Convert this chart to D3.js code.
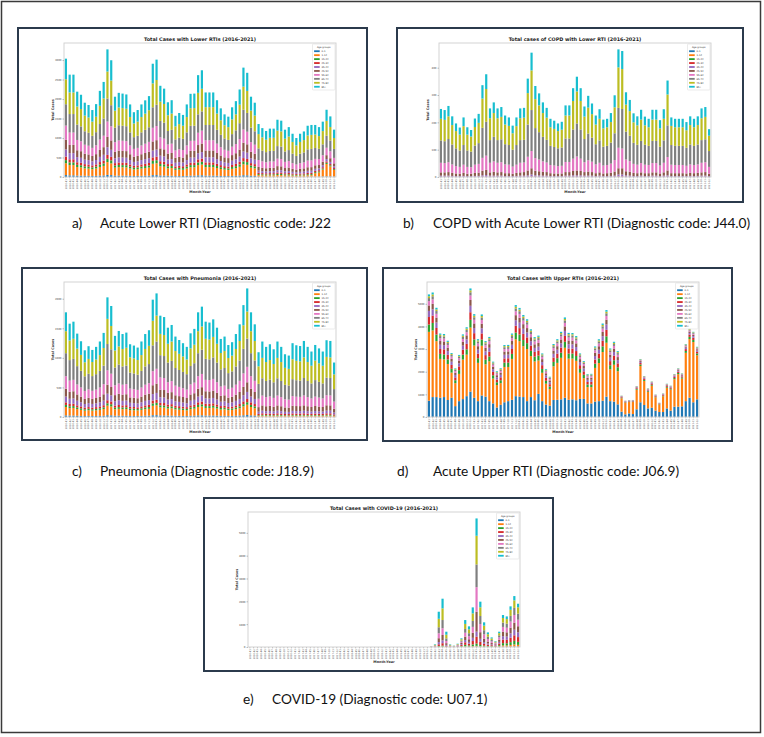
<!DOCTYPE html>
<html>
<head>
<meta charset="utf-8">
<script src="https://cdn.jsdelivr.net/npm/d3@7"></script>
<style>
  body { margin: 0; background: #fff; }
  svg { display: block; }
</style>
</head>
<body>
<div id="chart-area"></div>
<script>
// categories
var ageGroups = ['0-1', '1-14', '15-24', '25-34', '35-44', '45-54', '55-64', '65-74', '75-84', '85+'];
var colors = ['#1f77b4', '#ff7f0e', '#2ca02c', '#d62728', '#9467bd', '#8c564b', '#e377c2', '#7f7f7f', '#bcbd22', '#17becf'];
var years = [2016, 2017, 2018, 2019, 2020, 2021];
var monthNums = ['01', '02', '03', '04', '05', '06', '07', '08', '09', '10', '11', '12'];

// a) Lower RTIs - one row per age group, 72 months
var lowerRTI = [
  [49,42,42,35,34,31,30,28,30,36,39,53, 48,33,35,34,34,30,27,28,30,32,33,47, 48,38,36,31,32,25,26,26,30,34,34,42, 44,35,35,35,32,28,26,25,29,31,36,45, 43,33,31,7,6,6,6,6,7,7,6,6, 6,5,6,6,7,7,8,8,12,15,12,10],
  [305,264,264,220,212,192,186,173,188,222,245,329, 301,207,217,215,213,187,167,173,187,198,209,292, 303,235,228,193,198,158,165,160,187,215,215,263, 275,218,218,218,198,177,162,156,180,196,226,282, 269,207,192,41,38,35,37,37,44,43,36,38, 33,30,33,35,39,40,90,110,180,320,260,170],
  [79,69,69,57,55,50,48,45,49,58,64,86, 78,54,56,56,55,49,43,45,49,51,54,76, 79,61,59,50,51,41,43,42,49,56,56,68, 72,57,57,57,51,46,42,40,47,51,59,73, 70,54,50,27,25,24,25,25,29,29,24,26, 22,20,22,23,26,27,27,25,26,30,28,22],
  [92,79,79,66,64,57,56,52,56,67,74,99, 90,62,65,65,64,56,50,52,56,59,63,88, 91,71,68,58,59,47,50,48,56,64,65,79, 83,65,65,65,59,53,48,47,54,59,68,85, 81,62,57,34,31,30,31,31,37,36,30,32, 28,25,28,29,33,33,33,31,33,35,32,28],
  [183,158,158,132,127,115,111,104,113,133,147,197, 181,124,130,129,128,112,100,104,112,119,125,175, 182,141,137,116,119,95,99,96,112,129,129,158, 165,131,131,131,119,106,97,93,108,117,135,169, 161,124,115,54,50,47,50,50,59,58,49,51, 44,40,44,47,53,53,52,48,52,60,55,45],
  [244,211,211,176,170,153,148,138,150,178,196,263, 241,166,174,172,170,150,134,138,150,158,167,234, 242,188,182,154,158,126,132,128,150,172,172,210, 220,174,174,174,158,142,129,124,144,156,180,226, 215,166,153,95,88,83,87,87,103,101,85,90, 78,70,78,82,92,93,90,85,90,100,95,75],
  [366,317,317,264,254,230,223,207,226,266,294,395, 361,248,260,258,256,224,200,207,224,237,250,350, 363,282,274,231,238,190,198,192,224,257,258,315, 330,262,262,262,238,212,194,187,215,235,271,338, 322,248,230,177,163,153,161,161,191,188,158,166, 144,130,144,152,171,174,165,155,165,190,175,140],
  [549,475,475,396,382,345,334,311,338,400,441,592, 542,373,391,387,383,337,301,311,337,356,375,526, 545,423,410,347,356,284,297,288,337,386,387,473, 495,392,392,392,356,319,291,280,323,352,406,508, 483,373,345,299,276,260,273,273,323,318,267,282, 244,220,244,257,289,294,280,262,280,310,280,230],
  [641,554,554,462,445,402,390,362,395,466,515,691, 632,435,456,452,447,393,351,362,393,415,438,613, 635,494,479,404,416,332,347,336,393,450,452,551, 578,458,458,458,416,372,339,327,377,411,474,592, 564,435,402,367,339,319,335,335,397,390,328,346, 300,270,300,316,355,360,345,325,340,380,345,280],
  [528,457,457,381,367,331,321,298,325,384,424,569, 521,358,375,372,368,324,289,298,324,342,361,505, 523,407,394,333,343,273,285,277,324,371,372,454, 476,377,377,377,343,306,279,269,311,338,390,488, 465,358,331,258,238,224,236,236,279,275,231,243, 211,190,211,222,250,254,245,231,242,285,273,215]
];

// b) COPD with Lower RTI
var copdLRTI = [
  [0,0,0,0,0,0,0,0,0,0,0,0, 0,0,0,0,0,0,0,0,0,0,0,0, 0,0,0,0,0,0,0,0,0,0,0,0, 0,0,0,0,0,0,0,0,0,0,0,0, 0,0,0,0,0,0,0,0,0,0,0,0, 0,0,0,0,0,0,0,0,0,0,0,0],
  [0,0,0,0,0,0,0,0,0,0,0,0, 0,0,0,0,0,0,0,0,0,0,0,0, 0,0,0,0,0,0,0,0,0,0,0,0, 0,0,0,0,0,0,0,0,0,0,0,0, 0,0,0,0,0,0,0,0,0,0,0,0, 0,0,0,0,0,0,0,0,0,0,0,0],
  [0,0,0,0,0,0,0,0,0,0,0,0, 0,0,0,0,0,0,0,0,0,0,0,0, 0,0,0,0,0,0,0,0,0,0,0,0, 0,0,0,0,0,0,0,0,0,0,0,0, 0,0,0,0,0,0,0,0,0,0,0,0, 0,0,0,0,0,0,0,0,0,0,0,0],
  [1,1,1,1,0,0,1,0,0,1,1,1, 1,1,1,1,1,0,0,0,1,1,1,1, 2,1,1,1,1,0,0,0,0,1,1,1, 1,1,1,1,1,0,1,0,0,1,1,2, 2,1,1,0,0,1,0,0,1,1,0,1, 1,0,0,0,0,0,1,0,1,1,1,0],
  [4,4,4,3,3,3,3,3,3,3,3,5, 6,4,4,4,4,3,3,3,3,4,4,5, 7,5,5,4,4,3,3,3,3,4,4,5, 5,5,4,4,4,3,4,3,3,3,4,7, 7,5,4,3,3,4,3,3,4,4,3,4, 5,3,3,3,3,3,3,3,3,4,4,3],
  [12,12,13,11,10,9,11,9,9,11,12,17, 19,12,14,12,13,11,11,9,11,12,13,18, 23,17,15,14,13,11,10,10,10,13,13,16, 18,16,13,15,13,11,12,10,11,12,15,23, 23,15,14,12,11,12,11,11,12,12,10,12, 18,11,11,11,11,10,11,11,11,12,13,9],
  [35,34,36,31,27,25,30,25,24,30,32,47, 52,35,38,35,36,32,31,26,30,35,35,50, 63,46,43,38,35,30,29,27,28,37,37,45, 51,45,36,41,38,32,35,29,30,33,42,75, 72,43,39,33,31,34,31,30,34,34,29,35, 49,31,30,30,30,28,31,30,31,35,36,25],
  [82,80,85,73,65,60,72,60,57,70,76,110, 124,83,90,83,84,74,72,62,72,83,83,118, 150,110,100,90,83,70,68,65,67,86,86,107, 121,107,85,98,88,74,82,69,70,77,98,146, 145,102,93,77,73,81,73,70,81,81,69,82, 116,72,70,70,70,66,73,70,73,83,84,58],
  [79,78,83,71,63,58,69,58,55,68,74,107, 120,80,87,80,82,72,70,60,69,80,81,115, 145,106,98,87,81,68,66,63,65,84,84,104, 117,104,82,95,86,72,79,67,68,75,95,148, 146,99,90,75,71,78,71,68,78,78,67,79, 113,70,68,68,68,64,71,68,71,80,82,56],
  [36,36,38,32,28,26,32,27,24,31,33,49, 54,36,39,36,36,33,31,28,32,36,36,53, 65,48,44,39,36,31,30,28,29,37,37,47, 54,47,37,43,39,33,35,32,31,33,44,66, 66,45,41,33,33,36,32,31,36,36,30,35, 51,31,31,31,31,30,32,31,32,36,36,24]
];

// c) Pneumonia
var pneumonia = [
  [27,24,24,21,19,17,18,17,18,19,21,30, 28,21,22,21,21,18,18,18,19,21,22,30, 31,26,25,23,23,20,20,19,18,21,22,27, 28,24,24,25,23,20,20,18,19,21,24,28, 33,27,24,3,4,4,4,3,4,4,3,3, 4,4,4,4,4,3,4,3,3,4,4,3],
  [142,126,129,113,102,90,96,91,95,102,114,162, 150,110,116,112,114,98,97,94,102,112,117,159, 167,137,135,121,124,109,104,100,95,113,119,142, 149,129,128,132,121,106,109,98,101,112,125,151, 174,142,125,16,19,18,18,17,19,18,16,16, 19,18,18,19,18,17,18,17,17,19,19,14],
  [35,32,32,28,26,23,24,23,24,26,28,40, 38,27,29,28,29,25,24,23,26,28,29,40, 42,34,34,30,31,27,26,25,24,28,30,35, 37,32,32,33,30,26,27,24,25,28,31,38, 43,35,31,11,13,12,12,11,13,12,11,10, 12,12,12,13,12,11,12,12,11,13,13,9],
  [44,39,40,35,32,28,30,28,30,32,36,51, 47,34,36,35,36,31,30,29,32,35,37,50, 52,43,42,38,39,34,33,31,30,35,37,44, 47,40,40,41,38,33,34,30,32,35,39,47, 54,44,39,22,26,24,25,23,26,24,21,21, 25,24,24,26,24,22,24,23,22,26,26,18],
  [97,87,89,78,70,62,66,62,65,70,78,111, 103,75,80,77,78,68,66,65,70,77,81,109, 115,94,93,83,86,75,72,69,65,78,82,97, 103,89,88,91,83,73,75,67,70,77,86,104, 120,97,86,38,45,41,43,40,45,41,37,36, 44,42,42,45,41,39,43,41,39,45,45,32],
  [133,118,121,106,96,85,90,85,89,96,107,152, 141,103,109,105,107,92,91,88,96,105,110,149, 157,128,127,113,117,102,98,94,89,106,112,133, 140,121,120,124,113,99,102,91,95,105,118,142, 163,133,118,77,89,83,86,80,89,83,74,73, 87,85,84,90,83,77,85,81,77,91,90,64],
  [212,189,193,169,154,135,144,136,142,153,171,243, 225,165,175,168,171,148,145,141,153,168,176,238, 251,206,203,181,187,163,156,150,142,170,179,212, 224,193,192,198,181,158,163,146,152,168,188,227, 261,212,188,142,166,154,160,149,166,154,138,135, 162,158,156,167,154,144,158,151,144,169,167,120],
  [389,347,355,310,282,248,263,250,261,281,313,445, 413,302,320,309,314,271,266,258,281,309,323,436, 460,377,372,332,342,299,286,274,261,312,328,389, 410,355,351,363,332,290,299,268,278,309,345,416, 478,389,345,252,293,273,283,264,293,273,244,239, 287,279,276,296,273,255,280,267,255,299,296,212],
  [372,332,339,296,269,237,251,238,249,268,298,425, 394,288,306,295,300,258,254,247,268,295,308,416, 439,360,355,317,327,286,273,262,249,297,313,372, 392,339,335,347,317,277,286,256,265,295,329,398, 457,372,329,296,344,320,332,309,344,320,287,281, 337,328,324,347,320,299,329,313,299,350,347,249],
  [319,284,290,254,231,203,215,204,213,230,256,364, 338,247,262,253,257,221,217,211,230,253,264,357, 376,308,304,272,280,245,234,224,213,255,268,319, 336,290,287,297,272,238,245,219,228,253,282,341, 391,319,282,238,277,257,267,249,277,257,230,225, 271,263,260,279,257,240,265,252,240,282,279,200]
];

// d) Upper RTIs
var upperRTI = [
  [720,880,880,850,880,750,850,480,700,790,920,1120, 850,700,950,900,700,600,420,540,650,700,760,920, 900,880,700,880,740,1020,700,550,500,750,760,780, 850,760,780,740,800,800,600,600,680,700,720,900, 700,680,560,235,118,160,130,340,650,530,380,410, 280,220,220,380,280,455,455,470,700,850,650,780],
  [3040,2943,2470,1715,1664,1592,1110,1014,1204,1747,1832,2828, 2305,1691,2198,1428,1760,1096,991,954,1560,1510,1805,2513, 2450,2248,2302,1810,1713,1475,1253,923,737,1488,1631,1833, 2208,1818,1798,1741,1153,917,721,721,1488,1684,2150,2380, 1406,1627,1462,592,516,500,530,866,1603,1063,729,972, 591,334,695,914,934,1217,1437,1228,2134,2591,2659,1948],
  [325,330,289,221,220,202,169,129,164,219,238,341, 272,206,272,201,212,146,122,129,191,191,221,296, 289,270,259,232,212,215,169,127,107,193,206,226, 264,223,223,214,169,148,114,114,187,206,248,283, 182,199,175,24,18,19,19,34,64,45,32,39, 25,16,26,37,35,48,54,48,81,98,94,78],
  [330,325,292,218,224,199,172,126,166,215,241,338, 275,203,270,204,209,149,120,131,188,194,218,299, 286,273,256,235,209,218,166,130,104,196,203,229, 261,226,220,217,166,151,111,117,184,209,245,286, 179,202,172,26,19,18,20,32,66,43,34,37, 26,15,27,35,37,46,56,46,83,96,96,76],
  [270,275,241,185,183,169,141,108,137,183,198,284, 227,172,227,168,177,122,102,108,159,159,185,247, 241,225,216,194,177,180,141,106,89,161,172,188, 220,186,186,179,141,124,95,95,156,172,207,236, 152,166,146,19,14,15,15,27,51,36,25,31, 20,13,21,29,28,38,43,39,64,78,75,62],
  [243,248,217,166,165,152,127,97,123,164,178,256, 204,155,204,151,159,110,91,97,143,143,166,222, 217,203,194,174,159,162,126,95,80,145,155,169, 198,167,167,161,126,111,86,86,140,154,186,212, 136,149,131,14,11,11,11,21,38,27,19,24, 15,9,16,22,21,29,32,29,48,59,56,47],
  [189,193,169,129,128,118,99,75,96,128,139,199, 159,120,159,117,124,85,71,75,111,111,129,173, 169,158,151,135,124,126,98,74,62,113,120,132, 154,130,130,125,98,86,67,67,109,120,145,165, 106,116,102,11,9,9,9,16,31,22,15,19, 12,8,12,18,17,23,26,23,39,47,45,37],
  [135,138,121,92,92,84,71,54,69,91,99,142, 114,86,113,84,89,61,51,54,80,80,92,124, 121,113,108,97,88,90,70,53,45,81,86,94, 110,93,93,89,70,62,48,48,78,86,103,118, 76,83,73,9,7,8,8,14,26,18,13,16, 10,6,10,15,14,19,22,19,32,39,38,31],
  [81,83,72,55,55,51,42,32,41,55,59,85, 68,52,68,50,53,37,30,32,48,48,55,74, 72,68,65,58,53,54,42,32,27,48,52,56, 66,56,56,54,42,37,29,29,47,51,62,71, 45,50,44,7,5,5,5,10,18,13,9,11, 7,4,7,10,10,13,15,14,23,27,26,22],
  [81,83,72,55,55,51,42,32,41,55,59,85, 68,52,68,50,53,37,30,32,48,48,55,74, 72,68,65,58,53,54,42,32,27,48,52,56, 66,56,56,54,42,37,29,29,47,51,62,71, 45,50,44,6,4,5,5,8,15,11,8,9, 6,4,6,9,8,11,13,12,19,23,23,19]
];

// e) COVID-19
var covid19 = [
  [0,0,0,0,0,0,0,0,0,0,0,0, 0,0,0,0,0,0,0,0,0,0,0,0, 0,0,0,0,0,0,0,0,0,0,0,0, 0,0,0,0,0,0,0,0,0,0,0,0, 0,0,5,6,2,0,0,1,2,5,4,6, 20,8,5,4,3,2,6,14,13,18,22,19],
  [0,0,0,0,0,0,0,0,0,0,0,0, 0,0,0,0,0,0,0,0,0,0,0,0, 0,0,0,0,0,0,0,0,0,0,0,0, 0,0,0,0,0,0,0,0,0,0,0,0, 0,1,10,15,5,1,1,3,8,20,15,25, 30,20,15,12,10,8,25,55,55,70,90,75],
  [0,0,0,0,0,0,0,0,0,0,0,0, 0,0,0,0,0,0,0,0,0,0,0,0, 0,0,0,0,0,0,0,0,0,0,0,0, 0,0,0,0,0,0,0,0,0,0,0,0, 1,3,30,40,13,3,2,8,30,70,50,80, 100,60,40,30,25,18,50,100,95,125,155,130],
  [0,0,0,0,0,0,0,0,0,0,0,0, 0,0,0,0,0,0,0,0,0,0,0,0, 0,0,0,0,0,0,0,0,0,0,0,0, 0,0,0,0,0,0,0,0,0,0,0,0, 2,6,75,105,33,6,4,15,45,110,80,150, 300,140,80,55,40,28,75,155,150,195,245,210],
  [0,0,0,0,0,0,0,0,0,0,0,0, 0,0,0,0,0,0,0,0,0,0,0,0, 0,0,0,0,0,0,0,0,0,0,0,0, 0,0,0,0,0,0,0,0,0,0,0,0, 2,8,95,125,40,7,4,14,40,100,75,140, 220,130,75,50,35,25,70,150,145,190,245,210],
  [0,0,0,0,0,0,0,0,0,0,0,0, 0,0,0,0,0,0,0,0,0,0,0,0, 0,0,0,0,0,0,0,0,0,0,0,0, 0,0,0,0,0,0,0,0,0,0,0,0, 3,13,170,235,75,13,7,19,50,150,115,220, 875,290,150,90,60,38,95,195,185,250,310,265],
  [0,0,0,0,0,0,0,0,0,0,0,0, 0,0,0,0,0,0,0,0,0,0,0,0, 0,0,0,0,0,0,0,0,0,0,0,0, 0,0,0,0,0,0,0,0,0,0,0,0, 5,18,215,295,95,17,9,21,55,170,135,260, 1075,360,190,110,70,42,100,210,200,265,335,285],
  [0,0,0,0,0,0,0,0,0,0,0,0, 0,0,0,0,0,0,0,0,0,0,0,0, 0,0,0,0,0,0,0,0,0,0,0,0, 0,0,0,0,0,0,0,0,0,0,0,0, 5,22,265,360,115,20,10,22,50,165,130,260, 995,350,180,100,65,38,90,190,180,250,310,265],
  [0,0,0,0,0,0,0,0,0,0,0,0, 0,0,0,0,0,0,0,0,0,0,0,0, 0,0,0,0,0,0,0,0,0,0,0,0, 0,0,0,0,0,0,0,0,0,0,0,0, 7,27,370,510,160,27,13,25,60,220,170,330, 1255,380,200,110,65,37,95,200,200,265,330,280],
  [0,0,0,0,0,0,0,0,0,0,0,0, 0,0,0,0,0,0,0,0,0,0,0,0, 0,0,0,0,0,0,0,0,0,0,0,0, 0,0,0,0,0,0,0,0,0,0,0,0, 5,22,310,424,132,21,10,17,40,170,131,264, 760,247,145,79,47,24,64,131,117,152,188,156]
];

// month labels
var months = [];
years.forEach(function(yr) {
    monthNums.forEach(function(m) { months.push(yr + '-' + m); });
});

// panel layout (page pixels)
var panels = [
    {data: lowerRTI, title: 'Total Cases with Lower RTIs (2016-2021)',
     box: {x: 18, y: 28, w: 349, h: 174}, ax: {l: 64, r: 336, t: 43, b: 177},
     cap: {tag: 'a)', text: 'Acute Lower RTI (Diagnostic code: J22', tx: 72, x: 100, y: 228}},
    {data: copdLRTI, title: 'Total cases of COPD with Lower RTI (2016-2021)',
     box: {x: 397, y: 28, w: 346, h: 174}, ax: {l: 439, r: 711, t: 43, b: 177},
     cap: {tag: 'b)', text: 'COPD with Acute Lower RTI (Diagnostic code: J44.0)', tx: 403, x: 433, y: 228}},
    {data: pneumonia, title: 'Total Cases with Pneumonia (2016-2021)',
     box: {x: 22, y: 268, w: 345, h: 172}, ax: {l: 64, r: 336, t: 282, b: 417},
     cap: {tag: 'c)', text: 'Pneumonia (Diagnostic code: J18.9)', tx: 72, x: 100, y: 476}},
    {data: upperRTI, title: 'Total Cases with Upper RTIs (2016-2021)',
     box: {x: 383, y: 268, w: 349, h: 173}, ax: {l: 427, r: 699, t: 282, b: 417},
     cap: {tag: 'd)', text: 'Acute Upper RTI (Diagnostic code: J06.9)', tx: 397, x: 433, y: 476}},
    {data: covid19, title: 'Total Cases with COVID-19 (2016-2021)',
     box: {x: 204, y: 498, w: 349, h: 173}, ax: {l: 248, r: 520, t: 512, b: 647},
     cap: {tag: 'e)', text: 'COVID-19 (Diagnostic code: U07.1)', tx: 243, x: 272, y: 704}}
];

var svg = d3.select('#chart-area').append('svg')
    .attr('width', 764)
    .attr('height', 737);

// outer frame
svg.append('rect')
    .attr('x', 1.5).attr('y', 1.5)
    .attr('width', 759).attr('height', 731)
    .attr('fill', '#fff')
    .attr('stroke', '#3a3a3a')
    .attr('stroke-width', 1.5);

var chartFont = 'DejaVu Sans, sans-serif';

function drawPanel(p) {
    var g = svg.append('g');

    // rows for the stack
    var rows = months.map(function(m, i) {
        var row = {month: m};
        ageGroups.forEach(function(ag, k) { row[ag] = p.data[k][i]; });
        return row;
    });
    var series = d3.stack().keys(ageGroups)(rows);

    g.append('rect')
        .attr('x', p.box.x).attr('y', p.box.y)
        .attr('width', p.box.w).attr('height', p.box.h)
        .attr('fill', '#fff')
        .attr('stroke', '#2b3a4c')
        .attr('stroke-width', 2);

    var x = d3.scaleBand()
        .domain(months)
        .range([p.ax.l, p.ax.r])
        .paddingInner(0.42)
        .paddingOuter(0.21);

    var top = d3.max(series[series.length - 1], function(d) { return d[1]; });
    var y = d3.scaleLinear()
        .domain([0, top * 1.05])
        .range([p.ax.b, p.ax.t]);

    // bars
    g.selectAll('g.layer')
        .data(series)
        .enter().append('g')
        .attr('class', 'layer')
        .attr('fill', function(d, i) { return colors[i]; })
        .selectAll('rect')
        .data(function(d) { return d; })
        .enter().append('rect')
        .attr('x', function(d) { return x(d.data.month); })
        .attr('width', x.bandwidth())
        .attr('y', function(d) { return y(d[1]); })
        .attr('height', function(d) { return Math.max(0, y(d[0]) - y(d[1])); });

    // axes frame
    g.append('rect')
        .attr('x', p.ax.l).attr('y', p.ax.t)
        .attr('width', p.ax.r - p.ax.l).attr('height', p.ax.b - p.ax.t)
        .attr('fill', 'none')
        .attr('stroke', '#cfcfcf')
        .attr('stroke-width', 0.9);

    var yAx = d3.axisLeft(y).ticks(6).tickFormat(d3.format('d')).tickSize(1.5).tickPadding(1);
    var yG = g.append('g')
        .attr('transform', 'translate(' + p.ax.l + ',0)')
        .call(yAx);
    yG.select('.domain').remove();
    yG.selectAll('line').attr('stroke', '#666').attr('stroke-width', 0.4);
    yG.selectAll('text')
        .attr('font-family', chartFont)
        .attr('font-size', 2.6)
        .attr('fill', '#444');

    var xAx = d3.axisBottom(x).tickSize(1.5).tickPadding(1);
    var xG = g.append('g')
        .attr('transform', 'translate(0,' + p.ax.b + ')')
        .call(xAx);
    xG.select('.domain').remove();
    xG.selectAll('line').attr('stroke', '#666').attr('stroke-width', 0.3);
    xG.selectAll('text')
        .attr('font-family', chartFont)
        .attr('font-size', 2.4)
        .attr('fill', '#555')
        .attr('y', 0)
        .attr('x', -2.2)
        .attr('dy', '0.35em')
        .attr('transform', 'rotate(-90)')
        .style('text-anchor', 'end');

    var cx = (p.ax.l + p.ax.r) / 2;

    // title
    g.append('text')
        .attr('x', cx).attr('y', p.ax.t - 2.2)
        .attr('text-anchor', 'middle')
        .attr('font-family', chartFont)
        .attr('font-weight', 'bold')
        .attr('font-size', 4.9)
        .attr('fill', '#222')
        .text(p.title);

    // axis labels
    g.append('text')
        .attr('x', cx).attr('y', p.ax.b + 16)
        .attr('text-anchor', 'middle')
        .attr('font-family', chartFont)
        .attr('font-weight', 'bold')
        .attr('font-size', 3.4)
        .attr('fill', '#333')
        .text('Month-Year');

    g.append('text')
        .attr('transform', 'translate(' + (p.ax.l - 10) + ',' + ((p.ax.t + p.ax.b) / 2) + ') rotate(-90)')
        .attr('text-anchor', 'middle')
        .attr('font-family', chartFont)
        .attr('font-weight', 'bold')
        .attr('font-size', 3.4)
        .attr('fill', '#333')
        .text('Total Cases');

    // legend
    var lx = p.ax.r - 23.5, ly = p.ax.t + 1;
    var leg = g.append('g');
    leg.append('rect')
        .attr('x', lx).attr('y', ly)
        .attr('width', 22.5).attr('height', 46)
        .attr('rx', 0.8)
        .attr('fill', '#fff')
        .attr('fill-opacity', 0.85)
        .attr('stroke', '#d6d6d6')
        .attr('stroke-width', 0.5);
    leg.append('text')
        .attr('x', lx + 11.25).attr('y', ly + 3.6)
        .attr('text-anchor', 'middle')
        .attr('font-family', chartFont)
        .attr('font-size', 2.4)
        .attr('fill', '#333')
        .text('Age groups');
    ageGroups.forEach(function(ag, k) {
        var yy = ly + 7.2 + k * 3.95;
        leg.append('rect')
            .attr('x', lx + 1.6).attr('y', yy - 0.9)
            .attr('width', 5.6).attr('height', 1.8)
            .attr('fill', colors[k]);
        leg.append('text')
            .attr('x', lx + 9).attr('y', yy + 0.85)
            .attr('font-family', chartFont)
            .attr('font-size', 2.4)
            .attr('fill', '#333')
            .text(ag);
    });

    // caption under the panel
    svg.append('text')
        .attr('x', p.cap.tx).attr('y', p.cap.y)
        .attr('font-family', 'Lato, sans-serif')
        .attr('font-size', 13.7)
        .attr('fill', '#111')
        .text(p.cap.tag);
    svg.append('text')
        .attr('x', p.cap.x).attr('y', p.cap.y)
        .attr('font-family', 'Lato, sans-serif')
        .attr('font-size', 13.7)
        .attr('fill', '#111')
        .text(p.cap.text);
}

panels.forEach(drawPanel);
</script>
</body>
</html>
